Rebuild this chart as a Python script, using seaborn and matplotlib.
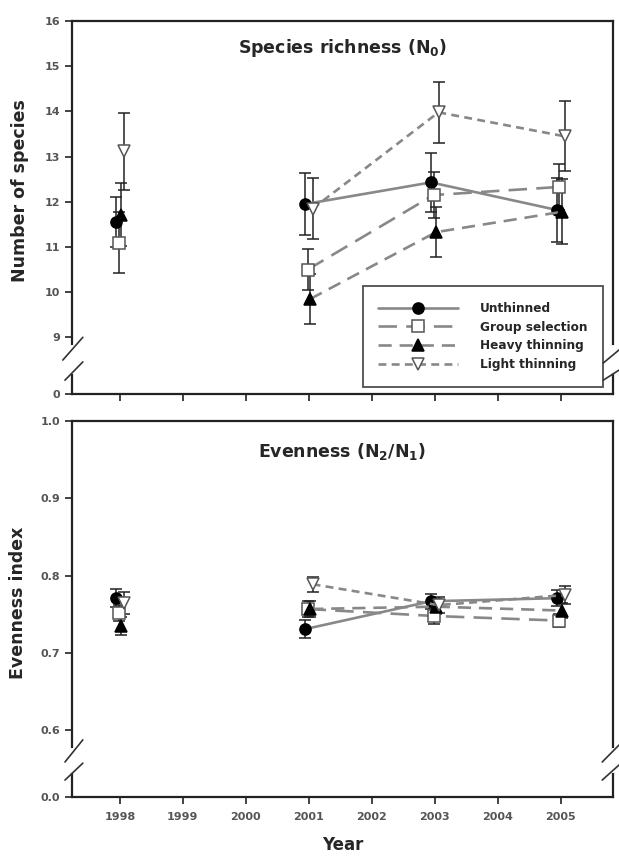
import matplotlib
matplotlib.use("Agg")
import matplotlib.pyplot as plt
from matplotlib.lines import Line2D
import pandas as pd
import seaborn as sns

# ---- data -------------------------------------------------------------
years = [1998, 2001, 2003, 2005]
treatments = ["Unthinned", "Group selection", "Heavy thinning", "Light thinning"]

richness_unthinned = [11.55, 11.95, 12.43, 11.82]
richness_group = [11.10, 10.50, 12.15, 12.33]
richness_heavy = [11.72, 9.85, 11.33, 11.78]
richness_light = [13.12, 11.85, 13.98, 13.45]

richness_unthinned_se = [0.55, 0.68, 0.65, 0.70]
richness_group_se = [0.68, 0.45, 0.50, 0.50]
richness_heavy_se = [0.70, 0.55, 0.55, 0.72]
richness_light_se = [0.85, 0.68, 0.67, 0.77]

evenness_unthinned = [0.771, 0.731, 0.767, 0.771]
evenness_group = [0.752, 0.757, 0.748, 0.742]
evenness_heavy = [0.735, 0.757, 0.760, 0.755]
evenness_light = [0.765, 0.789, 0.762, 0.775]

evenness_unthinned_se = [0.012, 0.012, 0.010, 0.010]
evenness_group_se = [0.010, 0.010, 0.010, 0.008]
evenness_heavy_se = [0.012, 0.010, 0.010, 0.010]
evenness_light_se = [0.014, 0.010, 0.010, 0.012]

richness_ticks = [9, 10, 11, 12, 13, 14, 15, 16]
evenness_ticks = [0.6, 0.7, 0.8, 0.9, 1.0]
year_ticks = [1998, 1999, 2000, 2001, 2002, 2003, 2004, 2005]

# ---- styling ------------------------------------------------------------
sns.set_style("ticks")
plt.rcParams["font.family"] = ["DejaVu Sans"]
plt.rcParams["mathtext.fontset"] = "dejavusans"

LINE_GRAY = "#888888"
styles = {
    "Unthinned": dict(ls="-", marker="o", mfc="black", mec="black", dx=-0.06),
    "Group selection": dict(ls=(0, (7, 3.5)), marker="s", mfc="white", mec="#555555", dx=-0.02),
    "Heavy thinning": dict(ls=(0, (5, 3)), marker="^", mfc="black", mec="black", dx=0.02),
    "Light thinning": dict(ls=(0, (3, 2)), marker="v", mfc="white", mec="#555555", dx=0.06),
}


def frame(values, errors):
    rows = []
    for t, vals, errs in zip(treatments, values, errors):
        for y, v, e in zip(years, vals, errs):
            rows.append(dict(treatment=t, year=y, x=y + styles[t]["dx"], value=v, err=e))
    return pd.DataFrame(rows)


rich_df = frame([richness_unthinned, richness_group, richness_heavy, richness_light],
                [richness_unthinned_se, richness_group_se, richness_heavy_se, richness_light_se])
even_df = frame([evenness_unthinned, evenness_group, evenness_heavy, evenness_light],
                [evenness_unthinned_se, evenness_group_se, evenness_heavy_se, evenness_light_se])

fig = plt.figure(figsize=(6.19, 8.59), dpi=100)
ax_top = fig.add_axes([72 / 619, 1 - 394 / 859, 541 / 619, 373 / 859])
ax_bot = fig.add_axes([72 / 619, 1 - 797 / 859, 541 / 619, 376 / 859])


def draw_panel(ax, df, ms):
    for t in treatments:
        st = styles[t]
        sub = df[df.treatment == t]
        ax.errorbar(sub.x, sub.value, yerr=sub.err, fmt="none", ecolor="#222222",
                    elinewidth=1.1, capsize=4, capthick=1.1, zorder=2)
        later = sub[sub.year > 1998]
        sns.lineplot(data=later, x="x", y="value", ax=ax, color=LINE_GRAY,
                     linestyle=st["ls"], linewidth=1.9, marker=st["marker"],
                     markersize=ms, markerfacecolor=st["mfc"], markeredgecolor=st["mec"],
                     markeredgewidth=1.1, errorbar=None, sort=True, zorder=3)
        first = sub[sub.year == 1998]
        ax.plot(first.x, first.value, linestyle="none", marker=st["marker"], markersize=ms,
                markerfacecolor=st["mfc"], markeredgecolor=st["mec"], markeredgewidth=1.1,
                zorder=3)


def axis_break(ax, left_pts, right_pts, gap):
    kw = dict(transform=ax.transAxes, clip_on=False, color="#333333", lw=1.2, zorder=10)
    ax.plot([0, 0], gap, color="white", lw=3, transform=ax.transAxes, clip_on=False, zorder=9)
    ax.plot([1, 1], gap, color="white", lw=3, transform=ax.transAxes, clip_on=False, zorder=9)
    for (x0, y0, x1, y1) in left_pts + right_pts:
        ax.plot([x0, x1], [y0, y1], **kw)


draw_panel(ax_top, rich_df, 8)
draw_panel(ax_bot, even_df, 8)

xlim = (1997.24, 2005.83)
for ax in (ax_top, ax_bot):
    ax.set_xlim(*xlim)
    ax.set_xticks(year_ticks)
    for s in ax.spines.values():
        s.set_linewidth(1.6)
        s.set_color("#222222")
    ax.tick_params(direction="out", length=5, width=1.2, colors="#222222",
                   labelsize=8, labelcolor="#555555")
    ax.tick_params(axis="x", pad=5.5)
    ax.set_xlabel("")
    ax.set_ylabel("")
    if ax.get_legend() is not None:
        ax.get_legend().remove()

# species richness panel
rich_low = 7.75
ax_top.set_ylim(rich_low, 16.0)
ax_top.set_yticks([rich_low] + richness_ticks)
ax_top.set_yticklabels(["0"] + [str(v) for v in richness_ticks], fontweight="bold")
ax_top.set_xticklabels([])
ax_top.text(0.5, 0.928, r"Species richness (N$_\mathbf{0}$)", transform=ax_top.transAxes,
            ha="center", va="center", fontsize=12.5, fontweight="bold")
ax_top.set_ylabel("Number of species", fontsize=12.5, fontweight="bold", va="center")
ax_top.yaxis.set_label_coords(-0.097, 0.545)

# evenness panel
even_low = 0.514
ax_bot.set_ylim(even_low, 1.0)
ax_bot.set_yticks([even_low] + evenness_ticks)
ax_bot.set_yticklabels(["0.0"] + [f"{v:.1f}" for v in evenness_ticks], fontweight="bold")
ax_bot.set_xticklabels([str(y) for y in year_ticks], fontweight="bold")
ax_bot.text(0.5, 0.918, r"Evenness (N$_\mathbf{2}$/N$_\mathbf{1}$)", transform=ax_bot.transAxes,
            ha="center", va="center", fontsize=12.5, fontweight="bold")
ax_bot.set_ylabel("Evenness index", fontsize=12.5, fontweight="bold", va="center")
ax_bot.yaxis.set_label_coords(-0.1, 0.516)
ax_bot.set_xlabel("Year", fontsize=12, fontweight="bold")
ax_bot.xaxis.set_label_coords(0.5, -0.128)
ax_bot.xaxis.label.set_va("center")

# broken-axis marks
axis_break(ax_top,
           [(-0.017, 0.091, 0.020, 0.152), (-0.013, 0.037, 0.020, 0.086)],
           [(0.982, 0.083, 1.011, 0.118), (0.982, 0.037, 1.011, 0.064)],
           (0.06, 0.125))
axis_break(ax_bot,
           [(-0.013, 0.093, 0.020, 0.152), (-0.013, 0.045, 0.020, 0.090)],
           [(0.980, 0.093, 1.011, 0.138), (0.980, 0.045, 1.011, 0.085)],
           (0.07, 0.125))

# legend
handles = [Line2D([], [], color=LINE_GRAY, linestyle=styles[t]["ls"], linewidth=1.9,
                  marker=styles[t]["marker"], markersize=8,
                  markerfacecolor=styles[t]["mfc"], markeredgecolor=styles[t]["mec"],
                  markeredgewidth=1.1) for t in treatments]
leg = ax_top.legend(handles, treatments, loc="lower right", bbox_to_anchor=(0.9815, 0.019),
                    borderaxespad=0, frameon=True, fancybox=False, handlelength=6.6,
                    numpoints=1, prop=dict(weight="bold", size=8.7), labelspacing=0.48,
                    handletextpad=1.8, borderpad=1.3)
leg.get_frame().set_edgecolor("#222222")
leg.get_frame().set_linewidth(1.3)

fig.savefig("out.png", dpi=100, facecolor="white")
